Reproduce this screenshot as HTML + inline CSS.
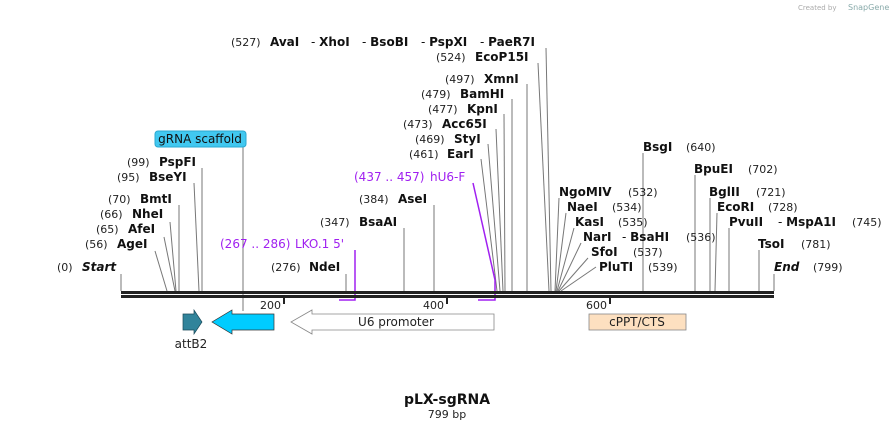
<!DOCTYPE html>
<html><head><meta charset="utf-8"><style>
html,body{margin:0;padding:0;background:#fff;}
svg{display:block;}
text{font-family:"DejaVu Sans","Liberation Sans",sans-serif;}
.n{font-size:11px;fill:#222;}
.b{font-size:12px;font-weight:bold;fill:#111;}
.p{font-size:12px;fill:#a020f0;}
.l{stroke:#777;stroke-width:1;fill:none;}
</style></head><body>
<svg width="896" height="430" viewBox="0 0 896 430" xmlns="http://www.w3.org/2000/svg">
<text x="798" y="10" style="font-size:7px;fill:#aaa">Created by</text>
<text x="848" y="10" style="font-size:8px;fill:#8aa">SnapGene</text>

<g class="l">
<line x1="121" y1="274" x2="121" y2="291"/>
<line x1="155" y1="251" x2="167" y2="291"/>
<line x1="164" y1="237" x2="175" y2="291"/>
<line x1="170" y1="222" x2="176" y2="291"/>
<line x1="179" y1="205" x2="179" y2="291"/>
<line x1="194" y1="183" x2="199" y2="291"/>
<line x1="202" y1="168" x2="202" y2="291"/>
<line x1="243" y1="147" x2="243" y2="311"/>
<line x1="346" y1="274" x2="346" y2="291"/>
<line x1="404" y1="228" x2="404" y2="291"/>
<line x1="434" y1="205" x2="434" y2="291"/>
<line x1="481" y1="159" x2="497" y2="291"/>
<line x1="488" y1="144" x2="500" y2="291"/>
<line x1="496" y1="129" x2="503" y2="291"/>
<line x1="504" y1="114" x2="505" y2="291"/>
<line x1="512" y1="99" x2="512" y2="291"/>
<line x1="527" y1="84" x2="527" y2="291"/>
<line x1="538" y1="63" x2="549" y2="291"/>
<line x1="546" y1="48" x2="551" y2="291"/>
<line x1="559" y1="198" x2="555" y2="291"/>
<line x1="566" y1="213" x2="556" y2="291"/>
<line x1="574" y1="228" x2="557" y2="291"/>
<line x1="581" y1="243" x2="558" y2="291"/>
<line x1="588" y1="258" x2="559" y2="291"/>
<line x1="596" y1="267" x2="561" y2="291"/>
<line x1="643" y1="153" x2="643" y2="291"/>
<line x1="695" y1="175" x2="695" y2="291"/>
<line x1="710" y1="198" x2="710" y2="291"/>
<line x1="717" y1="213" x2="715" y2="291"/>
<line x1="729" y1="228" x2="729" y2="291"/>
<line x1="759" y1="250" x2="759" y2="291"/>
<line x1="774" y1="274" x2="774" y2="291"/>
</g>

<g stroke="#a020f0" stroke-width="1.5" fill="none">
<polyline points="355,250 355,300 339,300"/>
<polyline points="473,183 495,280 495,300 478,300"/>
</g>

<rect x="121" y="291" width="653" height="3" fill="#222"/>
<rect x="121" y="295" width="653" height="3" fill="#222"/>
<g fill="#222">
<rect x="283" y="297" width="2" height="7"/>
<rect x="446" y="297" width="2" height="7"/>
<rect x="609" y="297" width="2" height="7"/>
</g>
<text x="281" y="309" text-anchor="end" class="n">200</text>
<text x="444" y="309" text-anchor="end" class="n">400</text>
<text x="607" y="309" text-anchor="end" class="n">600</text>

<polygon points="183,314 194,314 194,310 202,322 194,334 194,330 183,330" fill="#31849b" stroke="#1a4a5a" stroke-width="0.7"/>
<text x="191" y="348" text-anchor="middle" style="font-size:12px;fill:#222">attB2</text>
<polygon points="274,314 232,314 232,310 212,322 232,334 232,330 274,330" fill="#00ccff" stroke="#333" stroke-width="0.7"/>
<polygon points="494,314 312,314 312,310 291,322 312,334 312,330 494,330" fill="#fff" stroke="#888" stroke-width="0.8"/>
<text x="396" y="326" text-anchor="middle" style="font-size:12px;fill:#222">U6 promoter</text>
<rect x="589" y="314" width="97" height="16" fill="#fde0c0" stroke="#888" stroke-width="0.8"/>
<text x="637" y="326" text-anchor="middle" style="font-size:12px;fill:#222">cPPT/CTS</text>

<rect x="155" y="131" width="91" height="16" rx="3" fill="#41c8f0" stroke="#2aa8d0"/>
<text x="200" y="143" text-anchor="middle" style="font-size:12px;fill:#111">gRNA scaffold</text>

<text x="57" y="271" class="n">(0)</text><text x="82" y="271" class="b" font-style="italic">Start</text>
<text x="85" y="248" class="n">(56)</text><text x="117" y="248" class="b">AgeI</text>
<text x="96" y="233" class="n">(65)</text><text x="128" y="233" class="b">AfeI</text>
<text x="100" y="218" class="n">(66)</text><text x="132" y="218" class="b">NheI</text>
<text x="108" y="203" class="n">(70)</text><text x="140" y="203" class="b">BmtI</text>
<text x="117" y="181" class="n">(95)</text><text x="149" y="181" class="b">BseYI</text>
<text x="127" y="166" class="n">(99)</text><text x="159" y="166" class="b">PspFI</text>

<text x="220" y="248" class="p">(267 .. 286)</text><text x="295" y="248" class="p">LKO.1 5'</text>
<text x="271" y="271" class="n">(276)</text><text x="309" y="271" class="b">NdeI</text>
<text x="320" y="226" class="n">(347)</text><text x="359" y="226" class="b">BsaAI</text>
<text x="359" y="203" class="n">(384)</text><text x="398" y="203" class="b">AseI</text>
<text x="354" y="181" class="p">(437 .. 457)</text><text x="430" y="181" class="p">hU6-F</text>
<text x="409" y="158" class="n">(461)</text><text x="447" y="158" class="b">EarI</text>
<text x="415" y="143" class="n">(469)</text><text x="454" y="143" class="b">StyI</text>
<text x="403" y="128" class="n">(473)</text><text x="442" y="128" class="b">Acc65I</text>
<text x="428" y="113" class="n">(477)</text><text x="467" y="113" class="b">KpnI</text>
<text x="421" y="98" class="n">(479)</text><text x="460" y="98" class="b">BamHI</text>
<text x="445" y="83" class="n">(497)</text><text x="484" y="83" class="b">XmnI</text>
<text x="436" y="61" class="n">(524)</text><text x="475" y="61" class="b">EcoP15I</text>
<text x="231" y="46" class="n">(527)</text>
<text x="270" y="46" class="b">AvaI</text>
<text x="311" y="46" class="b"><tspan font-weight="normal">- </tspan>XhoI</text>
<text x="362" y="46" class="b"><tspan font-weight="normal">- </tspan>BsoBI</text>
<text x="421" y="46" class="b"><tspan font-weight="normal">- </tspan>PspXI</text>
<text x="480" y="46" class="b"><tspan font-weight="normal">- </tspan>PaeR7I</text>

<text x="643" y="151" class="b">BsgI</text><text x="686" y="151" class="n">(640)</text>
<text x="694" y="173" class="b">BpuEI</text><text x="748" y="173" class="n">(702)</text>
<text x="559" y="196" class="b">NgoMIV</text><text x="628" y="196" class="n">(532)</text>
<text x="709" y="196" class="b">BglII</text><text x="756" y="196" class="n">(721)</text>
<text x="567" y="211" class="b">NaeI</text><text x="612" y="211" class="n">(534)</text>
<text x="717" y="211" class="b">EcoRI</text><text x="768" y="211" class="n">(728)</text>
<text x="575" y="226" class="b">KasI</text><text x="618" y="226" class="n">(535)</text>
<text x="729" y="226" class="b">PvuII</text><text x="778" y="226" class="b"><tspan font-weight="normal">- </tspan>MspA1I</text><text x="852" y="226" class="n">(745)</text>
<text x="583" y="241" class="b">NarI</text><text x="622" y="241" class="b"><tspan font-weight="normal">- </tspan>BsaHI</text><text x="686" y="241" class="n">(536)</text>
<text x="758" y="248" class="b">TsoI</text><text x="801" y="248" class="n">(781)</text>
<text x="591" y="256" class="b">SfoI</text><text x="633" y="256" class="n">(537)</text>
<text x="599" y="271" class="b">PluTI</text><text x="648" y="271" class="n">(539)</text>
<text x="774" y="271" class="b" font-style="italic">End</text><text x="813" y="271" class="n">(799)</text>

<text x="447" y="404" text-anchor="middle" style="font-size:14px;font-weight:bold;fill:#111">pLX-sgRNA</text>
<text x="447" y="418" text-anchor="middle" style="font-size:11px;fill:#222">799 bp</text>
</svg>
</body></html>
